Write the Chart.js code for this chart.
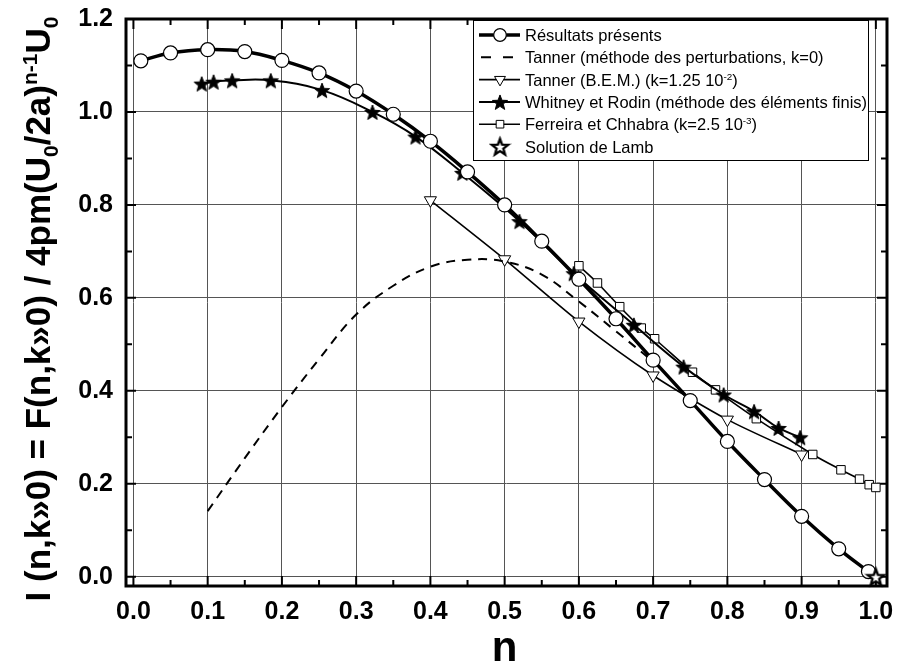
<!DOCTYPE html>
<html>
<head>
<meta charset="utf-8">
<script src="https://cdn.jsdelivr.net/npm/chart.js@4.4.1/dist/chart.umd.min.js"></script>
<style>
  html, body { margin: 0; padding: 0; background: #fff; }
  canvas { display: block; }
</style>
</head>
<body>
<canvas id="chart" width="897" height="665"></canvas>
<script>
// tick values
const xTicks = [0.0, 0.1, 0.2, 0.3, 0.4, 0.5, 0.6, 0.7, 0.8, 0.9, 1.0];
const yTicks = [0.0, 0.2, 0.4, 0.6, 0.8, 1.0, 1.2];

// Résultats présents
const resultatsN = [0.01, 0.05, 0.10, 0.15, 0.20, 0.25, 0.30, 0.35, 0.40, 0.45, 0.50, 0.55, 0.60, 0.65, 0.70, 0.75, 0.80, 0.85, 0.90, 0.95, 0.99];
const resultatsI = [1.110, 1.127, 1.134, 1.130, 1.111, 1.084, 1.045, 0.995, 0.937, 0.871, 0.800, 0.722, 0.640, 0.555, 0.466, 0.379, 0.291, 0.209, 0.130, 0.060, 0.011];

// Tanner (perturbations)
const tannerPertN = [0.10, 0.15, 0.20, 0.25, 0.30, 0.35, 0.40, 0.45, 0.50, 0.55, 0.60, 0.65, 0.70];
const tannerPertI = [0.141, 0.255, 0.365, 0.468, 0.564, 0.626, 0.667, 0.682, 0.678, 0.650, 0.592, 0.528, 0.463];

// Tanner (B.E.M.)
const tannerBemN = [0.40, 0.50, 0.60, 0.70, 0.80, 0.90];
const tannerBemI = [0.810, 0.683, 0.549, 0.433, 0.338, 0.263];

// Whitney et Rodin
const whitneyN = [0.092, 0.108, 0.133, 0.185, 0.254, 0.322, 0.380, 0.443, 0.520, 0.593, 0.674, 0.741, 0.795, 0.836, 0.869, 0.898];
const whitneyI = [1.061, 1.065, 1.068, 1.068, 1.047, 1.000, 0.947, 0.869, 0.765, 0.653, 0.542, 0.452, 0.392, 0.356, 0.320, 0.300];

// Ferreira et Chhabra
const ferreiraN = [0.600, 0.625, 0.655, 0.684, 0.702, 0.753, 0.784, 0.839, 0.915, 0.953, 0.978, 0.991, 1.000];
const ferreiraI = [0.669, 0.632, 0.581, 0.535, 0.512, 0.440, 0.402, 0.340, 0.263, 0.230, 0.210, 0.198, 0.192];

// Solution de Lamb
const lambN = [1.0];
const lambI = [0.0];

const seriesLabels = [
    'Résultats présents',
    'Tanner (méthode des perturbations, k=0)',
    'Tanner (B.E.M.) (k=1.25 10^{-2})',
    'Whitney et Rodin (méthode des éléments finis)',
    'Ferreira et Chhabra (k=2.5 10^{-3})',
    'Solution de Lamb'
];

const yTitle = 'I (n,k»0) = F(n,k»0) / 4pm(U_{0}/2a)^{n-1}U_{0}';
const xTitle = 'n';

const FAMILY = '"Liberation Sans", Arial, Helvetica, sans-serif';

function zip(xs, ys) {
    return xs.map((v, i) => ({ x: v, y: ys[i] }));
}

function makeStar(r, filled, lw) {
    const s = Math.ceil(2 * r + 6);
    const c = document.createElement('canvas');
    c.width = s;
    c.height = s;
    const g = c.getContext('2d');
    g.beginPath();
    for (let i = 0; i < 10; i++) {
        const rad = i % 2 === 0 ? r : r * 0.42;
        const a = -Math.PI / 2 + i * Math.PI / 5;
        const px = s / 2 + rad * Math.cos(a);
        const py = s / 2 + 1 + rad * Math.sin(a);
        if (i === 0) g.moveTo(px, py); else g.lineTo(px, py);
    }
    g.closePath();
    g.fillStyle = filled ? '#000' : '#fff';
    g.fill();
    g.lineJoin = 'miter';
    g.lineWidth = lw;
    g.strokeStyle = '#000';
    g.stroke();
    return c;
}

const starFilled = makeStar(8, true, 1);
const starOpen = makeStar(8.5, false, 2.4);

// text with ^{sup} and _{sub}
function drawRich(ctx, text, x, y, size, weight, align) {
    const parts = [];
    const re = /([\^_])\{([^}]*)\}/g;
    let last = 0, m;
    while ((m = re.exec(text))) {
        if (m.index > last) parts.push({ t: text.slice(last, m.index), k: '' });
        parts.push({ t: m[2], k: m[1] });
        last = re.lastIndex;
    }
    if (last < text.length) parts.push({ t: text.slice(last), k: '' });

    let total = 0;
    for (const p of parts) {
        p.size = p.k ? size * 0.6 : size;
        p.dy = p.k === '^' ? -size * 0.36 : (p.k === '_' ? size * 0.24 : 0);
        ctx.font = `${weight} ${p.size}px ${FAMILY}`;
        p.w = ctx.measureText(p.t).width;
        total += p.w;
    }
    let cx = align === 'center' ? x - total / 2 : x;
    ctx.textAlign = 'left';
    ctx.textBaseline = 'alphabetic';
    for (const p of parts) {
        ctx.font = `${weight} ${p.size}px ${FAMILY}`;
        ctx.fillText(p.t, cx, y + p.dy);
        cx += p.w;
    }
}

const framePlugin = {
    id: 'frame',
    beforeDatasetsDraw(chart) {
        const { ctx, chartArea: a, scales: { x, y } } = chart;
        const minorX = xTicks.slice(1).map((v, i) => (v + xTicks[i]) / 2);
        const minorY = yTicks.slice(1).map((v, i) => (v + yTicks[i]) / 2);
        ctx.save();
        ctx.strokeStyle = '#000';
        ctx.lineWidth = 2;
        ctx.beginPath();
        const tickX = (v, len) => {
            const px = x.getPixelForValue(v);
            ctx.moveTo(px, a.bottom); ctx.lineTo(px, a.bottom - len);
            ctx.moveTo(px, a.top); ctx.lineTo(px, a.top + len);
        };
        const tickY = (v, len) => {
            const py = y.getPixelForValue(v);
            ctx.moveTo(a.left, py); ctx.lineTo(a.left + len, py);
            ctx.moveTo(a.right, py); ctx.lineTo(a.right - len, py);
        };
        xTicks.forEach(v => tickX(v, 10));
        minorX.forEach(v => tickX(v, 6));
        yTicks.forEach(v => tickY(v, 10));
        minorY.forEach(v => tickY(v, 6));
        ctx.stroke();
        ctx.lineWidth = 3;
        ctx.strokeRect(a.left, a.top, a.right - a.left, a.bottom - a.top);
        ctx.restore();
    }
};

const legendPlugin = {
    id: 'boxLegend',
    afterDatasetsDraw(chart) {
        const ctx = chart.ctx;
        const box = { left: 473, top: 20, right: 868, bottom: 160 };
        ctx.save();
        ctx.fillStyle = '#fff';
        ctx.fillRect(box.left, box.top, box.right - box.left, box.bottom - box.top);
        ctx.strokeStyle = '#000';
        ctx.lineWidth = 1;
        ctx.strokeRect(box.left + 0.5, box.top + 0.5, box.right - box.left, box.bottom - box.top);

        chart.data.datasets.forEach((ds, i) => {
            const cy = 35 + i * 22.3;
            if (ds.showLine !== false) {
                ctx.save();
                ctx.beginPath();
                ctx.lineWidth = ds.borderWidth;
                ctx.strokeStyle = '#000';
                ctx.setLineDash(ds.borderDash ? [10, 12] : []);
                ctx.moveTo(ds.borderDash ? 481 : 479, cy);
                ctx.lineTo(520, cy);
                ctx.stroke();
                ctx.restore();
            }
            if (ds.pointRadius > 0) {
                if (ds.pointStyle instanceof HTMLCanvasElement) {
                    const img = ds.pointStyle;
                    ctx.drawImage(img, 500 - img.width / 2, cy - img.height / 2);
                } else {
                    ctx.fillStyle = ds.pointBackgroundColor;
                    ctx.strokeStyle = '#000';
                    ctx.lineWidth = ds.pointBorderWidth;
                    Chart.helpers.drawPoint(ctx, {
                        pointStyle: ds.pointStyle,
                        radius: ds.pointRadius * 0.9,
                        rotation: ds.pointRotation || 0,
                        borderWidth: ds.pointBorderWidth
                    }, 500, cy);
                }
            }
            ctx.fillStyle = '#000';
            drawRich(ctx, ds.label, 525, cy + 6, 16.5, 'normal', 'left');
        });
        ctx.restore();
    }
};

const titlePlugin = {
    id: 'axisTitles',
    afterDraw(chart) {
        const ctx = chart.ctx;
        ctx.save();
        ctx.fillStyle = '#000';
        ctx.translate(50, 309);
        ctx.rotate(-Math.PI / 2);
        drawRich(ctx, yTitle, 0, 0, 35, 'bold', 'center');
        ctx.restore();

        ctx.save();
        ctx.fillStyle = '#000';
        drawRich(ctx, xTitle, chart.scales.x.getPixelForValue(0.5), 661, 42, 'bold', 'center');
        ctx.restore();
    }
};

const common = {
    borderColor: '#000',
    pointBorderColor: '#000',
    pointBackgroundColor: '#fff',
    fill: false
};

const datasets = [
    Object.assign({}, common, {
        label: seriesLabels[0],
        data: zip(resultatsN, resultatsI),
        borderWidth: 3.5,
        pointStyle: 'circle',
        pointRadius: 7,
        pointBorderWidth: 1.2,
        tension: 0.4,
        order: 1
    }),
    Object.assign({}, common, {
        label: seriesLabels[1],
        data: zip(tannerPertN, tannerPertI),
        borderWidth: 2,
        borderDash: [9, 7],
        pointRadius: 0,
        tension: 0.4,
        order: 2
    }),
    Object.assign({}, common, {
        label: seriesLabels[2],
        data: zip(tannerBemN, tannerBemI),
        borderWidth: 1.6,
        pointStyle: 'triangle',
        pointRotation: 180,
        pointRadius: 7,
        pointBorderWidth: 1,
        tension: 0.25,
        order: 3
    }),
    Object.assign({}, common, {
        label: seriesLabels[3],
        data: zip(whitneyN, whitneyI),
        borderWidth: 2,
        pointStyle: starFilled,
        pointRadius: 7,
        tension: 0.4,
        order: 4
    }),
    Object.assign({}, common, {
        label: seriesLabels[4],
        data: zip(ferreiraN, ferreiraI),
        borderWidth: 1.6,
        pointStyle: 'rect',
        pointRadius: 6,
        pointBorderWidth: 1,
        tension: 0.3,
        order: 5
    }),
    Object.assign({}, common, {
        label: seriesLabels[5],
        data: zip(lambN, lambI),
        showLine: false,
        clip: false,
        pointStyle: starOpen,
        pointRadius: 8,
        order: 0
    })
];

const tickFont = { family: FAMILY, size: 25, weight: 'bold' };

new Chart(document.getElementById('chart'), {
    type: 'line',
    data: { datasets: datasets },
    options: {
        responsive: false,
        animation: false,
        devicePixelRatio: 1,
        events: [],
        layout: { padding: { top: 19, right: 10, left: 0, bottom: 0 } },
        plugins: {
            legend: { display: false },
            tooltip: { enabled: false }
        },
        scales: {
            x: {
                type: 'linear',
                min: -0.01,
                max: 1.015,
                afterBuildTicks: s => { s.ticks = xTicks.map(v => ({ value: v })); },
                afterFit: s => { s.height = 79; s.paddingLeft = 0; s.paddingRight = 0; },
                grid: { color: '#555', lineWidth: 1, drawTicks: false },
                border: { display: false },
                ticks: {
                    color: '#000',
                    font: tickFont,
                    padding: 11,
                    maxRotation: 0,
                    callback: v => v.toFixed(1)
                }
            },
            y: {
                type: 'linear',
                min: -0.02,
                max: 1.2,
                afterBuildTicks: s => { s.ticks = yTicks.map(v => ({ value: v })); },
                afterFit: s => { s.width = 126; s.paddingTop = 0; s.paddingBottom = 0; },
                grid: { color: '#555', lineWidth: 1, drawTicks: false },
                border: { display: false },
                ticks: {
                    color: '#000',
                    font: tickFont,
                    padding: 13,
                    callback: v => v.toFixed(1)
                }
            }
        }
    },
    plugins: [framePlugin, legendPlugin, titlePlugin]
});
</script>
</body>
</html>
